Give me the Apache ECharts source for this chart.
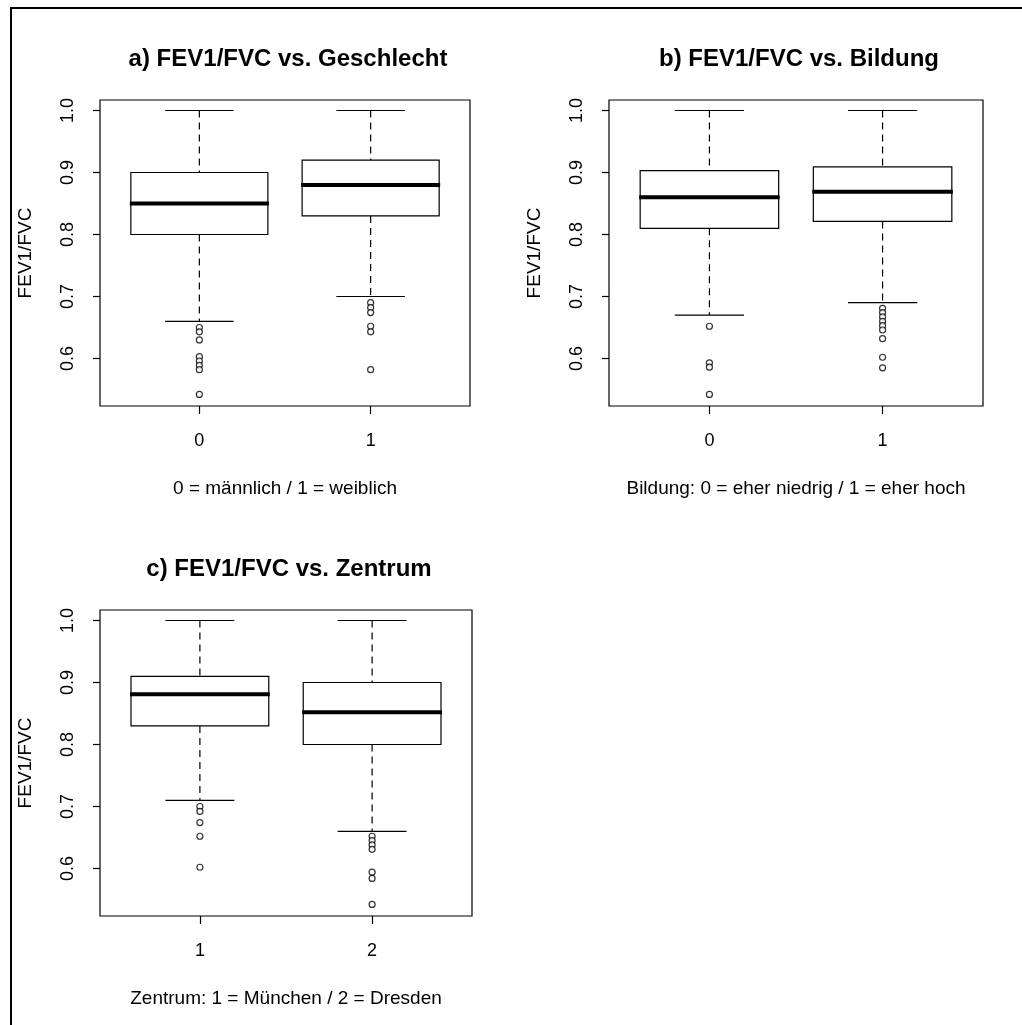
<!DOCTYPE html>
<html>
<head>
<meta charset="utf-8">
<script src="https://cdn.jsdelivr.net/npm/echarts@6/dist/echarts.min.js"></script>
<style>
  html, body { margin: 0; padding: 0; background: #fff; }
  #chart { width: 1022px; height: 1025px; }
</style>
</head>
<body>
<div id="chart"></div>
<script>
// ---------- data ----------
const titles = ['a) FEV1/FVC vs. Geschlecht', 'b) FEV1/FVC vs. Bildung', 'c) FEV1/FVC vs. Zentrum'];
const xTitles = ['0 = männlich / 1 = weiblich', 'Bildung: 0 = eher niedrig / 1 = eher hoch', 'Zentrum: 1 = München / 2 = Dresden'];
const yTitle = 'FEV1/FVC';
const catsA = ['0', '1'];
const catsB = ['0', '1'];
const catsC = ['1', '2'];
const yTicks = [0.6, 0.7, 0.8, 0.9, 1.0];

// box stats: [lower whisker, Q1, median, Q3, upper whisker]
const statsA0 = [0.66, 0.80, 0.85, 0.90, 1.00];
const statsA1 = [0.70, 0.83, 0.88, 0.92, 1.00];
const statsB0 = [0.67, 0.81, 0.86, 0.903, 1.00];
const statsB1 = [0.69, 0.821, 0.869, 0.909, 1.00];
const statsC1 = [0.71, 0.83, 0.881, 0.91, 1.00];
const statsC2 = [0.66, 0.80, 0.852, 0.90, 1.00];

// outliers
const outA0 = [0.650, 0.643, 0.630, 0.603, 0.596, 0.589, 0.582, 0.542];
const outA1 = [0.690, 0.682, 0.674, 0.652, 0.643, 0.582];
const outB0 = [0.652, 0.593, 0.586, 0.542];
const outB1 = [0.681, 0.674, 0.667, 0.660, 0.653, 0.646, 0.632, 0.602, 0.585];
const outC1 = [0.700, 0.692, 0.674, 0.652, 0.602];
const outC2 = [0.652, 0.645, 0.638, 0.631, 0.594, 0.584, 0.542];

// ---------- chart ----------
const FONT = 'Liberation Sans';
const yMin = 0.5234, yMax = 1.0169;
const panels = [
  { grid: { left: 100, top: 100, width: 370, height: 306 }, cats: catsA, stats: [statsA0, statsA1], outs: [outA0, outA1] },
  { grid: { left: 609, top: 100, width: 374, height: 306 }, cats: catsB, stats: [statsB0, statsB1], outs: [outB0, outB1] },
  { grid: { left: 100, top: 610, width: 372, height: 306 }, cats: catsC, stats: [statsC1, statsC2], outs: [outC1, outC2] }
];

function renderBox(params, api) {
  const x = api.value(0);
  const lo = api.value(1), q1 = api.value(2), med = api.value(3), q3 = api.value(4), hi = api.value(5);
  const pHi = api.coord([x, hi]);
  const pQ3 = api.coord([x, q3]);
  const pMed = api.coord([x, med]);
  const pQ1 = api.coord([x, q1]);
  const pLo = api.coord([x, lo]);
  const half = api.size([0.8, 0])[0] / 2;
  const cx = pHi[0];
  const stroke = { stroke: '#000', lineWidth: 1.2 };
  const dashed = { stroke: '#000', lineWidth: 1.2, lineDash: [7, 5] };
  return {
    type: 'group',
    children: [
      { type: 'line', shape: { x1: cx, y1: pHi[1], x2: cx, y2: pQ3[1] }, style: dashed },
      { type: 'line', shape: { x1: cx, y1: pQ1[1], x2: cx, y2: pLo[1] }, style: dashed },
      { type: 'line', shape: { x1: cx - half / 2, y1: pHi[1], x2: cx + half / 2, y2: pHi[1] }, style: stroke },
      { type: 'line', shape: { x1: cx - half / 2, y1: pLo[1], x2: cx + half / 2, y2: pLo[1] }, style: stroke },
      { type: 'rect', shape: { x: cx - half, y: pQ3[1], width: 2 * half, height: pQ1[1] - pQ3[1] },
        style: { fill: '#fff', stroke: '#000', lineWidth: 1.2 } },
      { type: 'line', shape: { x1: cx - half - 1, y1: pMed[1], x2: cx + half + 1, y2: pMed[1] },
        style: { stroke: '#000', lineWidth: 4 } }
    ]
  };
}

const option = {
  backgroundColor: '#fff',
  animation: false,
  title: [],
  grid: [],
  xAxis: [],
  yAxis: [],
  series: [],
  graphic: [{
    type: 'rect', shape: { x: 11, y: 8, width: 1040, height: 1040 },
    style: { fill: 'none', stroke: '#000', lineWidth: 2 }, silent: true
  }]
};

panels.forEach((p, i) => {
  const g = p.grid;
  option.grid.push(Object.assign({ show: true, borderColor: '#000', borderWidth: 1.2, backgroundColor: 'transparent' }, g));
  option.title.push({
    text: titles[i], left: g.left + g.width / 2 - 2, top: g.top - 58, textAlign: 'center',
    textStyle: { fontFamily: FONT, fontWeight: 'bold', fontSize: 24, color: '#000' }
  });
  const cats = p.cats;
  option.xAxis.push({
    type: 'value', gridIndex: i, min: 0.42, max: 2.58,
    axisLine: { show: false }, splitLine: { show: false },
    axisTick: { show: true, customValues: [1, 2], length: 8, lineStyle: { color: '#000', width: 1.2 } },
    axisLabel: { customValues: [1, 2], formatter: v => cats[Math.round(v) - 1], margin: 26,
      fontFamily: FONT, fontSize: 18, color: '#000' },
    name: xTitles[i], nameLocation: 'middle', nameGap: 73,
    nameTextStyle: { fontFamily: FONT, fontSize: 19, color: '#000' }
  });
  option.yAxis.push({
    type: 'value', gridIndex: i, min: yMin, max: yMax,
    axisLine: { show: false }, splitLine: { show: false },
    axisTick: { show: true, customValues: yTicks, length: 7, lineStyle: { color: '#000', width: 1.2 } },
    axisLabel: { customValues: yTicks, rotate: 90, formatter: v => v.toFixed(1), margin: 23,
      fontFamily: FONT, fontSize: 18, color: '#000' },
    name: yTitle, nameLocation: 'middle', nameGap: 65,
    nameTextStyle: { fontFamily: FONT, fontSize: 19, color: '#000' }
  });
  option.series.push({
    type: 'custom', xAxisIndex: i, yAxisIndex: i, clip: false,
    renderItem: renderBox,
    encode: { x: 0, y: [1, 2, 3, 4, 5] },
    data: p.stats.map((s, k) => [k + 1].concat(s))
  });
  const pts = [];
  p.outs.forEach((arr, k) => arr.forEach(v => pts.push([k + 1, v])));
  option.series.push({
    type: 'scatter', xAxisIndex: i, yAxisIndex: i, z: 5,
    symbol: 'circle', symbolSize: 6,
    itemStyle: { color: '#fff', borderColor: '#000', borderWidth: 1.2 },
    data: pts
  });
});

const chart = echarts.init(document.getElementById('chart'), null, { renderer: 'canvas' });
chart.setOption(option);
</script>
</body>
</html>
